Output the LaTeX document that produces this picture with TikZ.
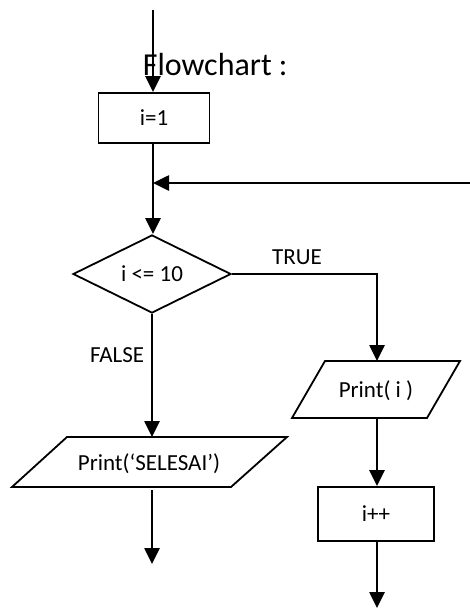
\documentclass[tikz,border=0pt]{standalone}
\usepackage{fontspec}
\setmainfont{Carlito}
\usetikzlibrary{shapes.geometric,arrows.meta}
\begin{document}
\begin{tikzpicture}[x=1pt,y=-1pt,
  line width=1.8pt,
  flow/.style={line width=2.6pt, -{Triangle[length=16pt,width=15pt]}},
  lbl/.style={font=\fontsize{23}{27}\selectfont, inner sep=0pt},
  procbox/.style={draw, rectangle, inner sep=0pt, font=\fontsize{23}{27}\selectfont},
  decision/.style={draw, diamond, aspect=2, inner sep=0pt, font=\fontsize{23}{27}\selectfont}]
\useasboundingbox (0,0) rectangle (470,608);

% title
\node[anchor=base west, inner sep=0pt, font=\fontsize{32}{38}\selectfont] (title) at (142,75) {Flowchart :};

% entry
\coordinate (start) at (153,10);
\node[procbox, minimum width=111pt, minimum height=50pt] (init) at (154,118) {i=1};

% loop junction
\coordinate (join) at (153,183);
\coordinate (loopin) at (470,183);

% condition
\node[decision, minimum width=158pt, minimum height=78pt] (cond) at (152,274) {i <= 10};

% TRUE branch: output i
\coordinate (pitop) at (377,361);
\coordinate (pibot) at (377,418);
\draw (325,361) -- (460,361) -- (427,418) -- (292,418) -- cycle;
\node[lbl] (pi) at (376,391) {Print( i )};

\node[procbox, minimum width=116pt, minimum height=54pt] (inc) at (376,514) {i++};
\coordinate (incend) at (377,608);

% FALSE branch: final output
\coordinate (pstop) at (152,437);
\coordinate (psbot) at (152,490);
\draw (67,437) -- (287,437) -- (231,487) -- (12,487) -- cycle;
\node[lbl] (ps) at (149,464) {Print(‘SELESAI’)};
\coordinate (psend) at (152,564);

% connectors
\draw[flow] (start) -- (start |- init.north);
\draw[flow] (loopin) -- (join);
\draw[flow] (start |- init.south) -- (start |- cond.north);
\draw[flow] (cond.east) -| (pitop);
\node[lbl] (truelbl) at (297,257) {TRUE};
\draw[flow] (cond.south) -- (pstop);
\node[lbl, anchor=east] (falselbl) at (145,355) {FALSE};
\draw[flow] (pibot) -- (pibot |- inc.north);
\draw[flow] (pibot |- inc.south) -- (incend);
\draw[flow] (psbot) -- (psend);
\end{tikzpicture}
\end{document}
